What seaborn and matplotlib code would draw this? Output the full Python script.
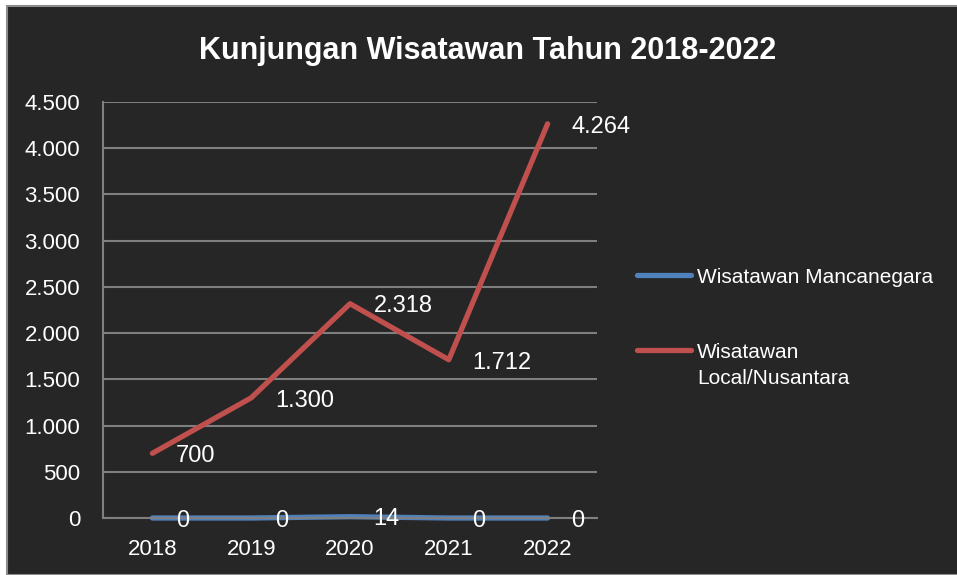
import pandas as pd
import matplotlib.pyplot as plt
import seaborn as sns
from matplotlib.patches import Rectangle

years = ['2018', '2019', '2020', '2021', '2022']
mancanegara = [0, 0, 14, 0, 0]
nusantara = [700, 1300, 2318, 1712, 4264]
series_names = ['Wisatawan Mancanegara', 'Wisatawan\nLocal/Nusantara']
colors = ['#4F81BD', '#C0504D']
y_ticks = [0, 500, 1000, 1500, 2000, 2500, 3000, 3500, 4000, 4500]

df = pd.DataFrame({
    'tahun': years * 2,
    'jumlah': mancanegara + nusantara,
    'seri': [series_names[0]] * len(years) + [series_names[1]] * len(years),
})

sns.set_theme(style='dark')
plt.rcParams['font.family'] = ['Liberation Sans', 'DejaVu Sans']

bg = '#262626'
grid_c = '#7f7f7f'

fig = plt.figure(figsize=(9.57, 5.75), dpi=100)
fig.patch.set_facecolor('white')
fig.patches.append(Rectangle((7 / 957, 0), 1, 1 - 6 / 575, transform=fig.transFigure,
                             facecolor=bg, edgecolor='#8c8c8c', linewidth=1.5, zorder=-10))

ax = fig.add_axes([103 / 957, 1 - 518 / 575, (597 - 103) / 957, (518 - 102) / 575])
ax.set_facecolor(bg)

sns.lineplot(data=df, x='tahun', y='jumlah', hue='seri', palette=colors,
             linewidth=3.8, sort=False, ax=ax)

for line in ax.lines:
    line.set_solid_capstyle('round')
    line.set_solid_joinstyle('round')
    line.set_clip_on(False)

ax.set_xlim(-0.5, len(years) - 0.5)
ax.set_ylim(0, 4500)
ax.set_yticks(y_ticks)
ax.set_yticklabels([f'{v:,}'.replace(',', '.') for v in y_ticks])
ax.yaxis.grid(True, color=grid_c, linewidth=1.5)
ax.set_axisbelow(True)
ax.tick_params(axis='both', colors='white', labelsize=16, length=0)
ax.tick_params(axis='y', pad=16.5)
ax.tick_params(axis='x', pad=15)
ax.set_xlabel('')
ax.set_ylabel('')
for side in ['top', 'right']:
    ax.spines[side].set_visible(False)
for side in ['left', 'bottom']:
    ax.spines[side].set_color(grid_c)
    ax.spines[side].set_linewidth(1.5)

for values in [mancanegara, nusantara]:
    for i, v in enumerate(values):
        ax.annotate(f'{v:,}'.replace(',', '.'), (i, v), xytext=(17, -2),
                    textcoords='offset points', ha='left', va='center',
                    color='white', fontsize=17, annotation_clip=False)

handles, labels = ax.get_legend_handles_labels()
leg = ax.legend(handles, labels, loc='upper left', bbox_to_anchor=(618 / 957, 1 - 249 / 575),
                bbox_transform=fig.transFigure, frameon=False, fontsize=15,
                labelcolor='white', handlelength=2.6, handletextpad=0.3, labelspacing=2.7)
for t in leg.get_texts():
    t.set_linespacing(1.45)
# put the handle beside the first line of a two-line label
for col in leg._legend_handle_box.get_children():
    for row in col.get_children():
        row.align = 'top'

fig.text(488 / 957, 1 - 51 / 575, 'Kunjungan Wisatawan Tahun 2018-2022', ha='center',
         va='center', color='white', fontsize=22, fontweight='bold')

fig.savefig('out.png', dpi=100, facecolor=fig.get_facecolor())
